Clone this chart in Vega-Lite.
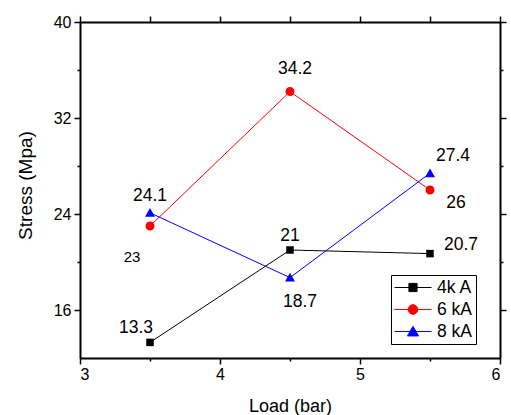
{
  "$schema": "https://vega.github.io/schema/vega-lite/v6.json",
  "autosize": {"type": "none"},
  "width": 420,
  "height": 336,
  "padding": {"left": 80, "top": 22, "right": 11, "bottom": 57},
  "background": "white",
  "config": {
    "view": {"stroke": null},
    "font": "Liberation Sans",
    "axis": {
      "grid": false,
      "labelFont": "Liberation Sans",
      "labelFontSize": 16,
      "labelColor": "black",
      "tickColor": "black",
      "domainColor": "black",
      "domainWidth": 2,
      "tickWidth": 1.5,
      "titleFont": "Liberation Sans",
      "titleFontWeight": "normal",
      "titleColor": "black"
    },
    "legend": {
      "labelFont": "Liberation Sans",
      "labelFontSize": 17.5,
      "labelColor": "black"
    }
  },
  "data": {
    "values": [
      {"series": "4k A", "load": 3.5, "stress": 13.3},
      {"series": "4k A", "load": 4.5, "stress": 21},
      {"series": "4k A", "load": 5.5, "stress": 20.7},
      {"series": "6 kA", "load": 3.5, "stress": 23},
      {"series": "6 kA", "load": 4.5, "stress": 34.2},
      {"series": "6 kA", "load": 5.5, "stress": 26},
      {"series": "8 kA", "load": 3.5, "stress": 24.1},
      {"series": "8 kA", "load": 4.5, "stress": 18.7},
      {"series": "8 kA", "load": 5.5, "stress": 27.4}
    ]
  },
  "resolve": {"axis": {"x": "independent", "y": "independent"}},
  "layer": [
    {
      "mark": {"type": "line", "strokeWidth": 1},
      "encoding": {
        "x": {"field": "load", "type": "quantitative",
              "scale": {"domain": [3, 6], "nice": false, "zero": false},
              "axis": {"orient": "bottom", "values": [3, 4, 5, 6], "tickSize": 6, "labelPadding": 2,
                       "title": "Load (bar)", "titleFontSize": 18, "titleBaseline": "alphabetic", "titleY": 53}},
        "y": {"field": "stress", "type": "quantitative",
              "scale": {"domain": [12, 40], "nice": false, "zero": false},
              "axis": {"orient": "left", "values": [16, 24, 32, 40], "tickSize": 6, "labelPadding": 3,
                       "title": "Stress (Mpa)", "titleFontSize": 19, "titleBaseline": "alphabetic",
                       "titleX": -49, "titleY": 163, "titleAngle": -90}},
        "color": {"field": "series", "type": "nominal",
                  "scale": {"domain": ["4k A", "6 kA", "8 kA"], "range": ["#000000", "#ff0000", "#0000ff"]},
                  "legend": {
                    "title": null,
                    "orient": "none",
                    "legendX": 311,
                    "legendY": 253,
                    "strokeColor": "black",
                    "fillColor": "white",
                    "padding": 3,
                    "symbolSize": 1369,
                    "symbolStrokeWidth": 1,
                    "labelOffset": 5,
                    "rowPadding": 3,
                    "clipHeight": 19,
                    "encode": {
                      "symbols": {
                        "update": {
                          "shape": {"signal": "datum.value == '4k A' ? 'M-1,0H1M-0.22,-0.22H0.22V0.22H-0.22Z' : datum.value == '6 kA' ? 'M-1,0H1M-0.26,0A0.26,0.26 0 1,0 0.26,0A0.26,0.26 0 1,0 -0.26,0Z' : 'M-1,0H1M0,-0.28L0.3,0.24L-0.3,0.24Z'"},
                          "fill": {"signal": "scale('color', datum.value)"},
                          "stroke": {"signal": "scale('color', datum.value)"},
                          "strokeWidth": {"value": 1},
                          "opacity": {"value": 1}
                        }
                      }
                    }
                  }}
      }
    },
    {
      "transform": [{"filter": "datum.series == '4k A'"}],
      "mark": {"type": "point", "filled": true, "opacity": 1, "size": 100, "shape": "M-0.75,-0.75H0.75V0.75H-0.75Z"},
      "encoding": {
        "x": {"field": "load", "type": "quantitative",
              "axis": {"orient": "bottom", "values": [3.5, 4.5, 5.5], "tickSize": 3, "labels": false, "domain": false, "title": null}},
        "y": {"field": "stress", "type": "quantitative",
              "axis": {"orient": "left", "values": [20, 28, 36], "tickSize": 3, "labels": false, "domain": false, "title": null}},
        "color": {"field": "series", "type": "nominal"}
      }
    },
    {
      "transform": [{"filter": "datum.series == '6 kA'"}],
      "mark": {"type": "point", "filled": true, "opacity": 1, "size": 100, "shape": "M-0.9,0A0.9,0.9 0 1,0 0.9,0A0.9,0.9 0 1,0 -0.9,0Z"},
      "encoding": {
        "x": {"field": "load", "type": "quantitative", "axis": null},
        "y": {"field": "stress", "type": "quantitative", "axis": null},
        "color": {"field": "series", "type": "nominal"}
      }
    },
    {
      "transform": [{"filter": "datum.series == '8 kA'"}],
      "mark": {"type": "point", "filled": true, "opacity": 1, "size": 100, "shape": "M0,-0.95L1,0.8L-1,0.8Z"},
      "encoding": {
        "x": {"field": "load", "type": "quantitative", "axis": null},
        "y": {"field": "stress", "type": "quantitative", "axis": null},
        "color": {"field": "series", "type": "nominal"}
      }
    },
    {
      "transform": [{"filter": "datum.series == '4k A' && datum.load == 3.5"}],
      "mark": {"type": "text", "fontSize": 17.5, "dx": -14, "dy": -14, "align": "center", "baseline": "middle", "color": "black"},
      "encoding": {
        "x": {"field": "load", "type": "quantitative",
              "axis": {"orient": "top", "values": [3, 3.5, 4, 4.5, 5, 5.5, 6], "tickSize": 6, "labels": false, "title": null}},
        "y": {"field": "stress", "type": "quantitative", "axis": null},
        "text": {"field": "stress", "type": "quantitative"}
      }
    },
    {
      "transform": [{"filter": "datum.series == '4k A' && datum.load == 4.5"}],
      "mark": {"type": "text", "fontSize": 17.5, "dx": 0, "dy": -14, "align": "center", "baseline": "middle", "color": "black"},
      "encoding": {
        "x": {"field": "load", "type": "quantitative", "axis": null},
        "y": {"field": "stress", "type": "quantitative",
              "axis": {"orient": "right", "values": [16, 24, 32, 40], "tickSize": 6, "labels": false, "title": null}},
        "text": {"field": "stress", "type": "quantitative"}
      }
    },
    {
      "transform": [{"filter": "datum.series == '4k A' && datum.load == 5.5"}],
      "mark": {"type": "text", "fontSize": 17.5, "dx": 31, "dy": -9, "align": "center", "baseline": "middle", "color": "black"},
      "encoding": {
        "x": {"field": "load", "type": "quantitative", "axis": null},
        "y": {"field": "stress", "type": "quantitative",
              "axis": {"orient": "right", "values": [20, 28, 36], "tickSize": 3, "labels": false, "domain": false, "title": null}},
        "text": {"field": "stress", "type": "quantitative"}
      }
    },
    {
      "transform": [{"filter": "datum.series == '6 kA' && datum.load == 3.5"}],
      "mark": {"type": "text", "fontSize": 15, "dx": -18, "dy": 31, "align": "center", "baseline": "middle", "color": "black"},
      "encoding": {
        "x": {"field": "load", "type": "quantitative", "axis": null},
        "y": {"field": "stress", "type": "quantitative", "axis": null},
        "text": {"field": "stress", "type": "quantitative"}
      }
    },
    {
      "transform": [{"filter": "datum.series == '6 kA' && datum.load == 4.5"}],
      "mark": {"type": "text", "fontSize": 17.5, "dx": 5, "dy": -23, "align": "center", "baseline": "middle", "color": "black"},
      "encoding": {
        "x": {"field": "load", "type": "quantitative", "axis": null},
        "y": {"field": "stress", "type": "quantitative", "axis": null},
        "text": {"field": "stress", "type": "quantitative"}
      }
    },
    {
      "transform": [{"filter": "datum.series == '6 kA' && datum.load == 5.5"}],
      "mark": {"type": "text", "fontSize": 17.5, "dx": 26, "dy": 13, "align": "center", "baseline": "middle", "color": "black"},
      "encoding": {
        "x": {"field": "load", "type": "quantitative", "axis": null},
        "y": {"field": "stress", "type": "quantitative", "axis": null},
        "text": {"field": "stress", "type": "quantitative"}
      }
    },
    {
      "transform": [{"filter": "datum.series == '8 kA' && datum.load == 3.5"}],
      "mark": {"type": "text", "fontSize": 17.5, "dx": 0, "dy": -17, "align": "center", "baseline": "middle", "color": "black"},
      "encoding": {
        "x": {"field": "load", "type": "quantitative", "axis": null},
        "y": {"field": "stress", "type": "quantitative", "axis": null},
        "text": {"field": "stress", "type": "quantitative"}
      }
    },
    {
      "transform": [{"filter": "datum.series == '8 kA' && datum.load == 4.5"}],
      "mark": {"type": "text", "fontSize": 17.5, "dx": 10, "dy": 24, "align": "center", "baseline": "middle", "color": "black"},
      "encoding": {
        "x": {"field": "load", "type": "quantitative", "axis": null},
        "y": {"field": "stress", "type": "quantitative", "axis": null},
        "text": {"field": "stress", "type": "quantitative"}
      }
    },
    {
      "transform": [{"filter": "datum.series == '8 kA' && datum.load == 5.5"}],
      "mark": {"type": "text", "fontSize": 17.5, "dx": 23, "dy": -17, "align": "center", "baseline": "middle", "color": "black"},
      "encoding": {
        "x": {"field": "load", "type": "quantitative", "axis": null},
        "y": {"field": "stress", "type": "quantitative", "axis": null},
        "text": {"field": "stress", "type": "quantitative"}
      }
    }
  ]
}
